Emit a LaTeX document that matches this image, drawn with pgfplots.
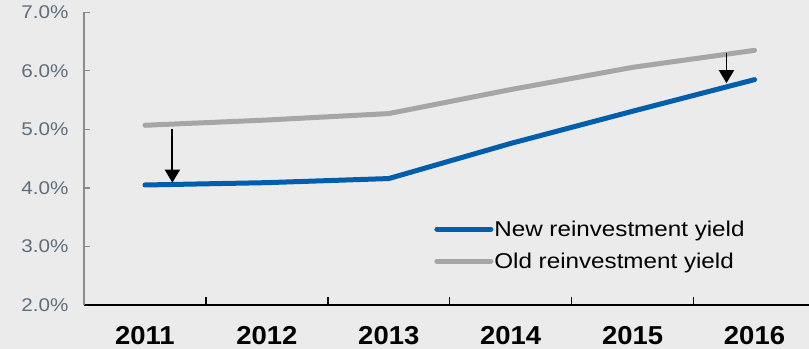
\documentclass[border=0pt]{standalone}
\usepackage{fontspec}
\setmainfont{Liberation Sans}
\newfontfamily\yfont[FakeStretch=1.12]{Liberation Sans}
\newfontfamily\legfont[FakeStretch=1.13]{Liberation Sans}
\newfontfamily\xfont[FakeStretch=1.06]{Liberation Sans}
\usepackage{pgfplots}
\pgfplotsset{compat=1.18}
\usetikzlibrary{arrows.meta}
\definecolor{bgcol}{RGB}{235,235,235}
\definecolor{newblue}{RGB}{0,94,172}
\definecolor{oldgray}{RGB}{166,166,166}
\definecolor{ylabcol}{RGB}{95,110,122}
\definecolor{yaxcol}{RGB}{140,140,140}

% year index (0 = 2011) and yield in percent
\pgfplotstableread{
x y
0 4.05
1 4.09
2 4.16
3 4.76
4 5.31
5 5.85
}\newyield
\pgfplotstableread{
x y
0 5.07
1 5.16
2 5.27
3 5.68
4 6.06
5 6.35
}\oldyield

\begin{document}
\begin{tikzpicture}
\fill[bgcol] (0,0) rectangle (809bp,349bp);
\useasboundingbox (0,0) rectangle (809bp,349bp);
\begin{axis}[
  scale only axis,
  width=725bp, height=292.7bp,
  at={(84bp,44bp)}, anchor=south west,
  xmin=-0.5, xmax=5.447,
  ymin=2, ymax=7,
  axis x line*=bottom,
  axis y line*=left,
  x axis line style={black, line width=2bp},
  y axis line style={yaxcol, line width=1.4bp},
  xtick={0,...,5},
  xticklabels={2011,2012,2013,2014,2015,2016},
  major x tick style={draw=none},
  minor xtick={0.5,1.5,2.5,3.5,4.5},
  minor x tick style={black, line width=1.5bp},
  minor tick length=8bp,
  ytick={2,...,7},
  yticklabels={2.0\%,3.0\%,4.0\%,5.0\%,6.0\%,7.0\%},
  y tick style={yaxcol, line width=1.3bp},
  major tick length=6bp,
  xticklabel style={font=\xfont\fontsize{26}{26}\selectfont\bfseries, text=black, yshift=-18bp},
  yticklabel style={font=\yfont\fontsize{18.5}{18.5}\selectfont, text=ylabcol, xshift=-12bp},
  legend style={
    at={(0.483,0.292)}, anchor=north west,
    draw=none, fill=none, inner sep=0pt,
    font=\legfont\fontsize{21.5}{21.5}\selectfont,
    row sep=13bp, column sep=0bp,
    nodes={inner sep=1bp},
  },
  legend cell align=left,
  legend image code/.code={\draw[#1, line cap=round] (0bp,0bp) -- (54bp,0bp);},
  clip=false,
]
\addplot[newblue, line width=5bp, line cap=round, line join=round] table {\newyield};
\addlegendentry{New reinvestment yield}
\addplot[oldgray, line width=5bp, line cap=round, line join=round] table {\oldyield};
\addlegendentry{Old reinvestment yield}
\draw[line width=1.8bp, -{Triangle[width=15bp, length=13bp]}] (axis cs:0.225,5.0) -- (axis cs:0.225,4.09);
\draw[line width=1.8bp, -{Triangle[width=15bp, length=13bp]}] (axis cs:4.77,6.30) -- (axis cs:4.77,5.79);
\end{axis}
\end{tikzpicture}
\end{document}
